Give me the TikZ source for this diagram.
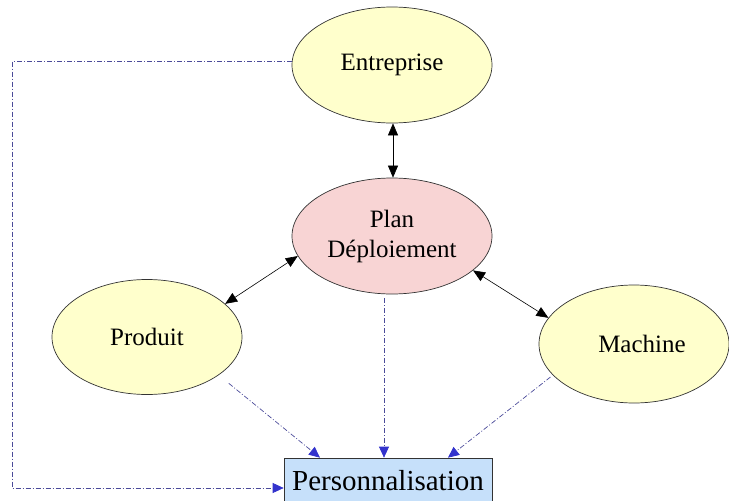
\documentclass[tikz,border=0pt]{standalone}
\usepackage{fontspec}
\setmainfont{Liberation Serif}
\usetikzlibrary{shapes.geometric,arrows.meta,calc}
\definecolor{ellyellow}{HTML}{FFFFCC}
\definecolor{ellpink}{HTML}{F8D4D4}
\definecolor{boxblue}{HTML}{C6E0FA}
\definecolor{dline}{HTML}{4A4A99}
\definecolor{dtip}{HTML}{3333CC}
\tikzset{
  ell/.style={ellipse, draw=black!80, line width=0.7pt, inner sep=0pt,
     minimum width=200pt, minimum height=116pt, fill=ellyellow,
     font=\fontsize{25}{30}\selectfont, align=center},
  persbox/.style={rectangle, draw=black!80, line width=0.7pt, fill=boxblue,
     minimum width=208pt, minimum height=46pt, inner sep=0pt,
     font=\fontsize{29}{32}\selectfont},
  biarrow/.style={black, line width=0.6pt,
     {Triangle[length=12pt,width=10pt]}-{Triangle[length=12pt,width=10pt]}},
  dd/.style={dline, line width=0.7pt, dash pattern=on 5pt off 2pt on 1pt off 2pt,
     -{Triangle[length=11pt,width=10pt,color=dtip]}}
}
\begin{document}
\begin{tikzpicture}[x=1pt,y=-1pt]
\useasboundingbox (0,0) rectangle (729,501);
\clip (0,0) rectangle (729,501);
\node[ell] (ent) at (392,65) {Entreprise};
\node[ell, fill=ellpink] (plan) at (392,236) {Plan\\Déploiement};
\node[ell, minimum width=190pt, minimum height=115pt] (prod) at (147,337) {Produit};
\node[ell, minimum width=190pt, minimum height=118pt] (mach) at (634,344) {\hspace*{16pt}Machine};
\node[persbox] (pers) at (388,481) {Personnalisation};
\coordinate (lx) at (12,0);

\draw[biarrow] ([xshift=1pt]ent.south) -- ([xshift=1pt]plan.north);
\draw[biarrow] (prod.23) -- (plan.192);
\draw[biarrow] (plan.337) -- (mach.163);

\draw[dd, shorten <=13pt] (prod.332) -- ([xshift=-68pt]pers.north);
\draw[dd, shorten <=4pt] ([xshift=-8pt]plan.south) -- ([xshift=-4pt]pers.north);
\draw[dd, shorten <=3pt] (mach.201) -- ([xshift=60pt]pers.north);
\draw[dd] (ent.178) -- (ent.178 -| lx) |- ([yshift=-7pt]pers.west);
\end{tikzpicture}
\end{document}
